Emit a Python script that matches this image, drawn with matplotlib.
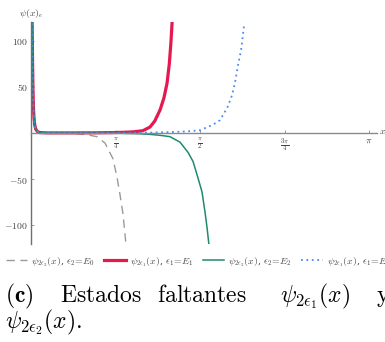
import numpy as np
import matplotlib
matplotlib.use("Agg")
import matplotlib.pyplot as plt

plt.rcParams['mathtext.fontset'] = 'cm'
plt.rcParams['font.family'] = 'serif'
plt.rcParams['font.serif'] = ['DejaVu Serif']

# ---- curve samples -------------------------------------------------------
# shared steep part near x = 0
x_head = [0.010, 0.014, 0.018, 0.022, 0.027, 0.034, 0.045, 0.060, 0.080]
y_head = [125, 80, 50, 30, 18, 9, 4, 1.5, 0.5]

# psi_{2 eps2}, eps2 = E0 (grey dashed)
x_e0 = x_head + [0.15, 0.30, 0.40, 0.455, 0.548, 0.613, 0.688, 0.762, 0.799, 0.827, 0.855, 0.883]
y_e0 = y_head + [0.1, -0.2, -0.6, -1.0, -2.5, -4, -11, -28, -48, -67, -88, -122]

# psi_{2 eps1}, eps1 = E1 (red)
x_e1 = x_head + [0.15, 0.40, 0.60, 0.75, 0.85, 0.948, 1.04, 1.106, 1.15, 1.199,
                 1.235, 1.264, 1.285, 1.30, 1.312]
y_e1 = y_head + [0.1, 0.1, 0.2, 0.4, 0.7, 1.2, 2.5, 6.5, 13, 25, 38, 54, 75, 98, 122]

# psi_{2 eps2}, eps2 = E2 (green)
x_e2 = x_head + [0.15, 0.50, 0.80, 1.00, 1.106, 1.20, 1.292, 1.385, 1.459, 1.506, 1.552,
                 1.589, 1.617, 1.636, 1.654]
y_e2 = y_head + [0.1, -0.1, -0.3, -0.8, -1.5, -2.5, -4, -10, -21, -31, -49, -64, -86, -103, -122]

# psi_{2 eps1}, eps1 = E (blue dotted)
x_e = x_head + [0.15, 0.40, 0.80, 1.10, 1.30, 1.45, 1.571, 1.691, 1.756, 1.822, 1.868,
                1.896, 1.924, 1.952, 1.980]
y_e = y_head + [0.1, 0.0, 0.05, 0.4, 1.0, 1.8, 3, 9, 14, 27, 41, 55, 74, 90, 117]

x_ticks = [np.pi / 4, np.pi / 2, 3 * np.pi / 4, np.pi]
x_ticklabels = [r'$\frac{\pi}{4}$', r'$\frac{\pi}{2}$', r'$\frac{3\pi}{4}$', r'$\pi$']
y_ticks = [-100, -50, 50, 100]
y_ticklabels = [r'$-100$', r'$-50$', r'$50$', r'$100$']

labels = [r'$\psi_{2\epsilon_2}(x)$, $\epsilon_2\!=\!E_0$',
          r'$\psi_{2\epsilon_1}(x)$, $\epsilon_1\!=\!E_1$',
          r'$\psi_{2\epsilon_2}(x)$, $\epsilon_2\!=\!E_2$',
          r'$\psi_{2\epsilon_1}(x)$, $\epsilon_1\!=\!E$']

# ---- figure --------------------------------------------------------------
W, H = 385, 342
fig = plt.figure(figsize=(W / 100, H / 100), dpi=100)
ax = fig.add_axes([31 / W, 1 - 244 / H, (377 - 31) / W, (244 - 22) / H])

l0, = ax.plot(x_e0, y_e0, color='#9a9a9a', lw=1.0, dashes=(6, 4))
l1, = ax.plot(x_e1, y_e1, color='#e5194f', lw=2.3)
l2, = ax.plot(x_e2, y_e2, color='#1e8a6e', lw=1.1)
l3, = ax.plot(x_e, y_e, color='#4a8af4', lw=1.3, dashes=(1, 2.0))

ax.set_xlim(0, 3.215)
ax.set_ylim(-120.6, 120.6)

for s in ['top', 'right']:
    ax.spines[s].set_visible(False)
ax.spines['bottom'].set_position(('data', 0))
ax.spines['bottom'].set_color('#8a8a8a')
ax.spines['left'].set_color('#707070')
ax.spines['bottom'].set_linewidth(1.0)
ax.spines['left'].set_linewidth(1.0)

ax.set_xticks(x_ticks)
ax.set_xticklabels(x_ticklabels)
ax.set_yticks(y_ticks)
ax.set_yticklabels(y_ticklabels)
ax.tick_params(axis='both', direction='in', length=2.5, width=0.6, colors='#8a8a8a',
               labelcolor='#444444', labelsize=7, pad=2)
ax.set_facecolor('none')

fig.text(31 / W, 1 - 13 / H, r'$\psi(x)_e$', ha='center', va='center',
         fontsize=7, color='#444444')
fig.text(383 / W, 1 - 131 / H, r'$x$', ha='center', va='center',
         fontsize=7, color='#444444')

fig.legend([l0, l1, l2, l3], labels, loc='upper left', bbox_to_anchor=(0.005, 1 - 251 / H),
           ncol=4, frameon=False, fontsize=7, handlelength=2.2, handletextpad=0.4,
           columnspacing=1.0, borderaxespad=0, labelcolor='#444444')

# caption below the plot
fs = 17
base1 = 1 - 302 / H
fig.text(5 / W, base1, r'$\mathbf{(c)}$', fontsize=fs, va='baseline')
fig.text(60 / W, base1, r'$\mathrm{Estados}$', fontsize=fs, va='baseline')
fig.text(157 / W, base1, r'$\mathrm{faltantes}$', fontsize=fs, va='baseline')
fig.text(280 / W, base1, r'$\psi_{2\epsilon_1}(x)$', fontsize=fs, va='baseline')
fig.text(376 / W, base1, r'$\mathrm{y}$', fontsize=fs, va='baseline')
fig.text(5 / W, 1 - 328 / H, r'$\psi_{2\epsilon_2}(x).$', fontsize=fs, va='baseline')

fig.savefig('out.png', dpi=100)
